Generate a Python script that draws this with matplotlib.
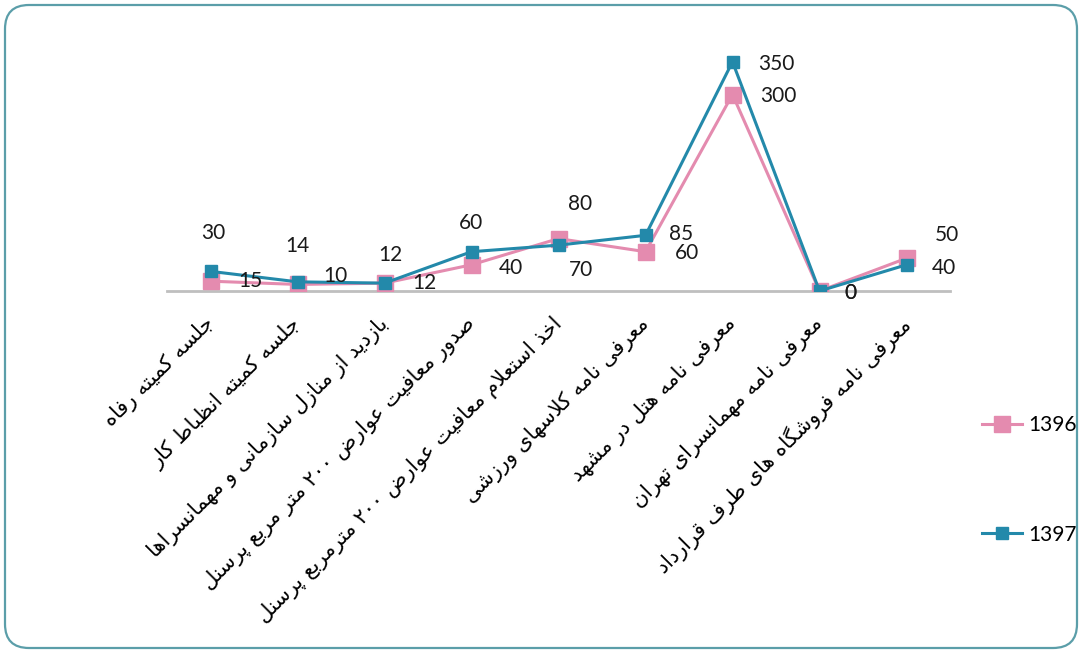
import re
import numpy as np
import matplotlib
matplotlib.use("Agg")
import matplotlib.pyplot as plt
from matplotlib.patches import FancyBboxPatch
from matplotlib.transforms import IdentityTransform, ScaledTranslation


categories = [
    "جلسه کمیته رفاه",
    "جلسه کمیته انظباط کار",
    "بازدید از منازل سازمانی و مهمانسراها",
    "صدور معافیت عوارض ۲۰۰ متر مربع پرسنل",
    "اخذ استعلام معافیت عوارض ۲۰۰ مترمربع پرسنل",
    "معرفی نامه کلاسهای ورزشی",
    "معرفی نامه هتل در مشهد",
    "معرفی نامه مهمانسرای تهران",
    "معرفی نامه فروشگاه های طرف قرارداد",
]
series_names = ["1396", "1397"]
vals_1396 = [15, 10, 12, 40, 80, 60, 300, 0, 50]
vals_1397 = [30, 14, 12, 60, 70, 85, 350, 0, 40]

# label offsets in pixels (dx, dy), as the labels sit in the original
off_1396 = [(40, 0), (38, 8), (40, 0), (39, -3), (22, 35), (41, -1), (46, -1), (31, -2), (40, 23)]
off_1397 = [(3, 38), (0, 36), (6, 28), (-1, 29), (22, -25), (36, 1), (44, -2), (31, -2), (37, -3)]

c_pink = "#E48BAF"
c_teal = "#2389AA"

# --- minimal arabic/persian shaping (matplotlib has no bidi) ---
FORMS = {
    'ا': (0xFE8D, 0xFE8E), 'ب': (0xFE8F, 0xFE90, 0xFE91, 0xFE92),
    'پ': (0xFB56, 0xFB57, 0xFB58, 0xFB59), 'ت': (0xFE95, 0xFE96, 0xFE97, 0xFE98),
    'ج': (0xFE9D, 0xFE9E, 0xFE9F, 0xFEA0), 'خ': (0xFEA5, 0xFEA6, 0xFEA7, 0xFEA8),
    'د': (0xFEA9, 0xFEAA), 'ذ': (0xFEAB, 0xFEAC), 'ر': (0xFEAD, 0xFEAE),
    'ز': (0xFEAF, 0xFEB0), 'س': (0xFEB1, 0xFEB2, 0xFEB3, 0xFEB4),
    'ش': (0xFEB5, 0xFEB6, 0xFEB7, 0xFEB8), 'ص': (0xFEB9, 0xFEBA, 0xFEBB, 0xFEBC),
    'ض': (0xFEBD, 0xFEBE, 0xFEBF, 0xFEC0), 'ط': (0xFEC1, 0xFEC2, 0xFEC3, 0xFEC4),
    'ظ': (0xFEC5, 0xFEC6, 0xFEC7, 0xFEC8), 'ع': (0xFEC9, 0xFECA, 0xFECB, 0xFECC),
    'ف': (0xFED1, 0xFED2, 0xFED3, 0xFED4), 'ق': (0xFED5, 0xFED6, 0xFED7, 0xFED8),
    'ک': (0xFB8E, 0xFB8F, 0xFB90, 0xFB91), 'گ': (0xFB92, 0xFB93, 0xFB94, 0xFB95),
    'ل': (0xFEDD, 0xFEDE, 0xFEDF, 0xFEE0), 'م': (0xFEE1, 0xFEE2, 0xFEE3, 0xFEE4),
    'ن': (0xFEE5, 0xFEE6, 0xFEE7, 0xFEE8), 'ه': (0xFEE9, 0xFEEA, 0xFEEB, 0xFEEC),
    'و': (0xFEED, 0xFEEE), 'ی': (0xFBFC, 0xFBFD, 0xFBFE, 0xFBFF),
}


def joins_next(c):
    return c in FORMS and len(FORMS[c]) == 4


def shape(s):
    out = []
    i, n = 0, len(s)
    while i < n:
        c = s[i]
        if c not in FORMS:
            out.append(c)
            i += 1
            continue
        link_prev = i > 0 and joins_next(s[i-1])
        if c == 'ل' and i+1 < n and s[i+1] == 'ا':
            out.append(chr(0xFEFC if link_prev else 0xFEFB))
            i += 2
            continue
        link_next = joins_next(c) and i+1 < n and s[i+1] in FORMS
        f = FORMS[c]
        if link_prev and link_next:
            g = f[3]
        elif link_next:
            g = f[2]
        elif link_prev:
            g = f[1]
        else:
            g = f[0]
        out.append(chr(g))
        i += 1
    vis = ''.join(out)[::-1]
    return re.sub('[۰-۹0-9]+', lambda m: m.group(0)[::-1], vis)


W, H = 1081, 652
fig = plt.figure(figsize=(W/100, H/100), dpi=100)

# rounded frame around the chart
frame = FancyBboxPatch((5, 4), W-9, H-9, boxstyle="round,pad=0,rounding_size=24",
                       transform=IdentityTransform(), fill=False,
                       edgecolor="#5B9EA9", linewidth=1.6)
fig.add_artist(frame)

ax = fig.add_axes([167/W, (H-291)/H, 783/W, 262/H])
x = np.arange(len(categories))

ax.plot(x, vals_1396, '-s', color=c_pink, lw=2.2, ms=12, label=series_names[0], zorder=3)
ax.plot(x, vals_1397, '-s', color=c_teal, lw=2.2, ms=9, label=series_names[1], zorder=4)

for i in range(len(x)):
    ax.annotate(str(vals_1396[i]), (x[i], vals_1396[i]), xytext=off_1396[i],
                textcoords='offset pixels', ha='center', va='center',
                fontsize=15, family='Lato', color='#1a1a1a', zorder=5)
    ax.annotate(str(vals_1397[i]), (x[i], vals_1397[i]), xytext=off_1397[i],
                textcoords='offset pixels', ha='center', va='center',
                fontsize=15, family='Lato', color='#1a1a1a', zorder=5)

ax.set_xlim(-0.5, len(categories) - 0.5)
ax.set_ylim(0, 400)
for sp in ['top', 'right', 'left']:
    ax.spines[sp].set_visible(False)
ax.spines['bottom'].set_color('#BFBFBF')
ax.spines['bottom'].set_linewidth(2)
ax.set_yticks([])
ax.set_xticks(x)
ax.set_xticklabels([shape(c) for c in categories], rotation=45, ha='right', va='top',
                   rotation_mode='anchor', fontsize=15, family=['DejaVu Sans'])
ax.tick_params(axis='x', length=0, pad=16)
shift = ScaledTranslation(-5/72, 0, fig.dpi_scale_trans)
for lbl in ax.get_xticklabels():
    lbl.set_transform(lbl.get_transform() + shift)
ax.patch.set_alpha(0)

fig.legend(loc='upper left', bbox_to_anchor=(982/W, 1 - 415/H), frameon=False,
           labelspacing=4.3, handlelength=1.9, handletextpad=0.3, borderpad=0,
           borderaxespad=0, prop={'family': 'Lato', 'size': 15})

fig.savefig("out.png", dpi=100)
